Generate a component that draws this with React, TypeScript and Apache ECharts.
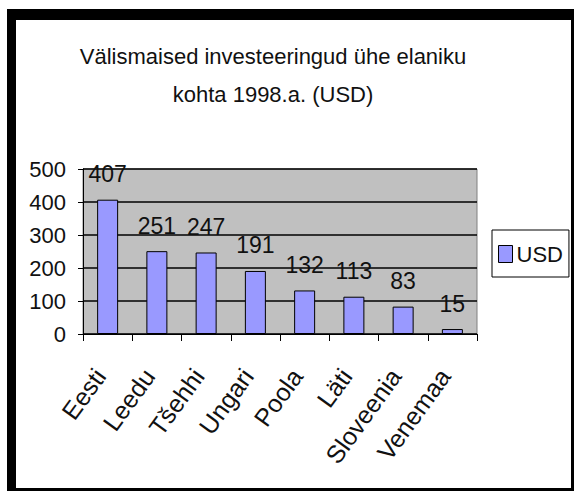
import React, { useEffect, useRef } from "react";
import * as echarts from "echarts";

const categories = ["Eesti", "Leedu", "Tšehhi", "Ungari", "Poola", "Läti", "Sloveenia", "Venemaa"];
const usdValues = [407, 251, 247, 191, 132, 113, 83, 15];
const seriesName = "USD";
const titleLines = ["Välismaised investeeringud ühe elaniku", "kohta 1998.a. (USD)"];

const FONT = "'Liberation Sans', Arial, sans-serif";

export default function App() {
  const ref = useRef<HTMLDivElement>(null);
  useEffect(() => {
    if (!ref.current) return;
    const chart = echarts.init(ref.current, undefined, { renderer: "svg" });
    chart.setOption({
      animation: false,
      backgroundColor: "#ffffff",
      title: {
        text: titleLines.join("\n"),
        left: 268,
        top: 32,
        textAlign: "center",
        textStyle: { fontFamily: FONT, fontSize: 22, fontWeight: "normal", color: "#111", lineHeight: 38 },
      },
      legend: {
        left: 492,
        top: 230,
        width: 76,
        height: 43,
        orient: "vertical",
        borderColor: "#000",
        borderWidth: 1,
        padding: [13, 6, 12, 6],
        itemWidth: 14,
        itemHeight: 17,
        itemGap: 5,
        icon: "rect",
        textStyle: { fontFamily: FONT, fontSize: 22, color: "#111", padding: [0, 0, 0, -1] },
        data: [{ name: seriesName, itemStyle: { color: "#9999FF", borderColor: "#000", borderWidth: 1 } }],
      },
      grid: {
        left: 83,
        right: 99,
        top: 169,
        bottom: 157,
        show: true,
        backgroundColor: "#C0C0C0",
        borderColor: "#808080",
        borderWidth: 1,
      },
      xAxis: {
        type: "category",
        data: categories,
        axisLine: { lineStyle: { color: "#000", width: 1 } },
        axisTick: { show: true, length: 7, lineStyle: { color: "#000" } },
        axisLabel: {
          rotate: 54,
          interval: 0,
          margin: 27,
          padding: [0, 13, 0, 0],
          fontFamily: FONT,
          fontSize: 25,
          color: "#111",
        },
      },
      yAxis: {
        type: "value",
        min: 0,
        max: 500,
        interval: 100,
        axisLine: { show: true, lineStyle: { color: "#000", width: 1 } },
        axisTick: { show: true, length: 5, lineStyle: { color: "#000" } },
        splitLine: { show: true, lineStyle: { color: "#000", width: 1.5 } },
        axisLabel: { fontFamily: FONT, fontSize: 22, color: "#111", margin: 17 },
      },
      series: [
        {
          name: seriesName,
          type: "bar",
          data: usdValues,
          barWidth: 21,
          itemStyle: { color: "#9999FF", borderColor: "#000", borderWidth: 1 },
          label: {
            show: true,
            position: "top",
            distance: 14,
            fontFamily: FONT,
            fontSize: 23,
            color: "#111",
          },
        },
      ],
      graphic: [
        { type: "rect", shape: { x: 7, y: 9, width: 9, height: 482 }, style: { fill: "#000" }, silent: true },
        { type: "rect", shape: { x: 7, y: 9, width: 567, height: 11 }, style: { fill: "#000" }, silent: true },
        { type: "rect", shape: { x: 571, y: 9, width: 3, height: 482 }, style: { fill: "#000" }, silent: true },
        { type: "rect", shape: { x: 7, y: 488, width: 567, height: 3 }, style: { fill: "#000" }, silent: true },
      ],
    });
    return () => chart.dispose();
  }, []);
  return (
    <div
      ref={ref}
      style={{ position: "absolute", left: 0, top: 0, width: 576, height: 491 }}
    />
  );
}
